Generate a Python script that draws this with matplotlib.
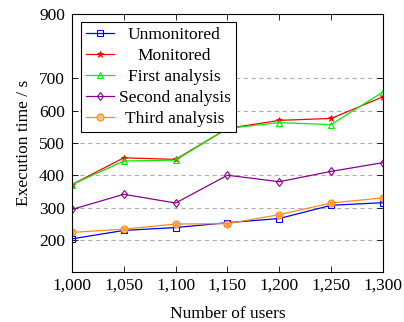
import matplotlib
matplotlib.use("Agg")
import matplotlib.pyplot as plt

plt.rcParams['font.family'] = ['Liberation Serif', 'DejaVu Serif']

users = [1000, 1050, 1100, 1150, 1200, 1250, 1300]
unmonitored = [203, 229, 238, 253, 266, 307, 315]
monitored = [371, 454, 449, 545, 570, 576, 643]
first_analysis = [371, 444, 447, 545, 563, 557, 658]
second_analysis = [294, 341, 314, 400, 380, 412, 439]
third_analysis = [223, 233, 249, 250, 278, 314, 330]

labels = ["Unmonitored", "Monitored", "First analysis", "Second analysis", "Third analysis"]
yticks = [200, 300, 400, 500, 600, 700, 900]
xtick_labels = ["1,000", "1,050", "1,100", "1,150", "1,200", "1,250", "1,300"]

fig = plt.figure(figsize=(4.04, 3.22), dpi=100)
ax = fig.add_axes([0.178, 0.155, 0.770, 0.802])

lw = 0.9
ms = 4.5
h1, = ax.plot(users, unmonitored, color='#0000ff', marker='s', mfc='none', ms=ms, lw=lw, mew=0.8)
h2, = ax.plot(users, monitored, color='#ff0000', marker='*', ms=ms, lw=lw, mew=0.6)
h3, = ax.plot(users, first_analysis, color='#00ee00', marker='^', mfc='none', ms=ms, lw=lw, mew=0.8)
h4, = ax.plot(users, second_analysis, color='#8b008b', marker='d', mfc='none', ms=ms, lw=lw, mew=0.8)
h5, = ax.plot(users, third_analysis, color='#ff8c1a', marker='o', mfc='#ffc080', ms=ms + 0.5, lw=lw, mew=0.8)
ax.plot(users, third_analysis, color='#ff8c1a', marker='x', ls='none', ms=ms - 1, mew=0.8)

ax.set_xlim(1000, 1300)
ax.set_ylim(100, 900)
ax.set_xticks(users)
ax.set_xticklabels(xtick_labels)
ax.set_yticks(yticks)
for y in yticks[:-1]:
    ax.axhline(y, color='#b0b0b0', ls=(0, (4, 3)), lw=0.8, zorder=0)

ax.tick_params(direction='in', top=True, right=True, length=4, width=0.6, labelsize=12.5)
ax.tick_params(axis='x', pad=4)
ax.tick_params(axis='y', pad=5)
for s in ax.spines.values():
    s.set_linewidth(0.8)

ax.set_xlabel("Number of users", fontsize=12.5, labelpad=9)
ax.set_ylabel("Execution time / s", fontsize=12.5, labelpad=5)

leg = ax.legend([h1, h2, h3, h4, h5], labels, loc='upper left', bbox_to_anchor=(0.03, 0.97),
                fontsize=12.5, frameon=True, fancybox=False, edgecolor='black', framealpha=1,
                handlelength=1.6, handletextpad=0.25, borderpad=0.3, labelspacing=0.28, borderaxespad=0)
leg.get_frame().set_linewidth(0.8)

fig.canvas.draw()
texts = leg.get_texts()
widths = [t.get_window_extent().width for t in texts]
W = max(widths)
for t, w in zip(texts, widths):
    t.set_position(((W - w) / 2, 0))

fig.savefig("out.png", dpi=100)
